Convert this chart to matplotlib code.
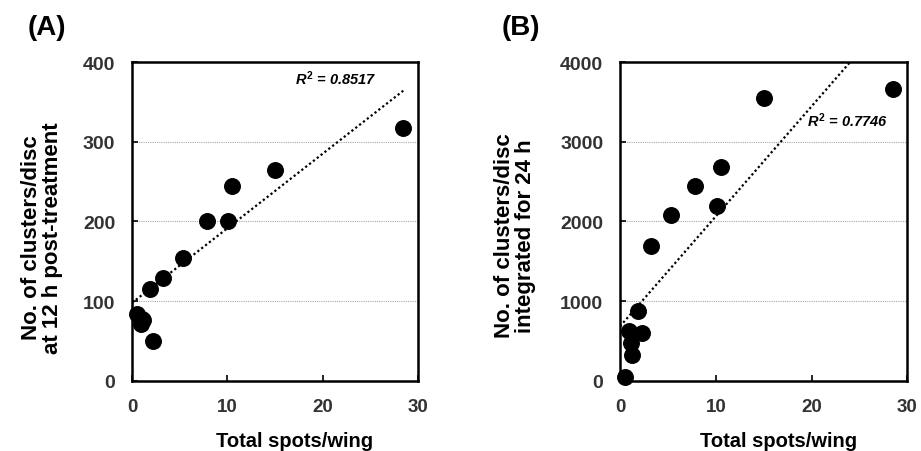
import matplotlib
matplotlib.use("Agg")
import matplotlib.pyplot as plt

plt.rcParams['font.family'] = ['Liberation Sans', 'DejaVu Sans']
plt.rcParams['mathtext.fontset'] = 'custom'
plt.rcParams['mathtext.it'] = 'Liberation Sans:italic:bold'
plt.rcParams['mathtext.rm'] = 'Liberation Sans:bold'

# total spots per wing (x) and clusters per disc (y)
spots = [0.55, 0.9, 1.1, 1.2, 1.85, 2.25, 3.25, 5.3, 7.85, 10.1, 10.5, 15.0, 28.45]
clusters_12h = [84, 72, 78, 76, 115, 50, 129, 154, 200, 201, 245, 264, 317]
clusters_24h = [46, 631, 473, 326, 881, 598, 1697, 2082, 2449, 2190, 2687, 3545, 3661]

# trend lines (slope, intercept) as printed
fit_a = (9.35, 98.0)
fit_b = (138.0, 685.0)
r2_a = "0.8517"
r2_b = "0.7746"

ylabel_a = "No. of clusters/disc\nat 12 h post-treatment"
ylabel_b = "No. of clusters/disc\nintegrated for 24 h"
xlabel = "Total spots/wing"
tick_col = "#333333"

fig = plt.figure(figsize=(9.21, 4.52), dpi=100)
ax_a = fig.add_axes([0.1433, 0.1549, 0.3106, 0.7057])
ax_b = fig.add_axes([0.6732, 0.1549, 0.3121, 0.7057])


def panel(ax, y, fit, r2, r2pos, ymax, ystep, xlab_x):
    ax.set_xlim(0, 30)
    ax.set_ylim(0, ymax)
    ax.set_xticks([0, 10, 20, 30])
    ax.set_yticks([ystep * i for i in range(5)])
    for v in [ystep, 2 * ystep, 3 * ystep]:
        ax.axhline(v, color="#a8a8a8", lw=0.8, ls=(0, (1, 1)), zorder=0)
    x_end = min(max(spots), (ymax - fit[1]) / fit[0])
    ax.plot([0, x_end], [fit[1], fit[1] + fit[0] * x_end], color="black",
            lw=1.6, ls=(0, (1, 1.2)), zorder=2)
    ax.scatter(spots, y, s=125, color="black", zorder=3, clip_on=False)
    ax.text(r2pos[0], r2pos[1], r"$R^2$ = " + r2, fontsize=10.5,
            fontweight="bold", fontstyle="italic")
    for sp in ax.spines.values():
        sp.set_linewidth(1.8)
    ax.tick_params(axis="y", direction="in", length=4, width=1.2, pad=12,
                   labelsize=14, labelcolor=tick_col)
    ax.tick_params(axis="x", direction="in", length=4, width=1.2, pad=12,
                   labelsize=13.5, labelcolor=tick_col)
    for lab in ax.get_xticklabels() + ax.get_yticklabels():
        lab.set_fontweight("bold")
    ax.text(xlab_x, -0.188, xlabel, transform=ax.transAxes, ha="center",
            va="center", fontsize=14.5, fontweight="bold")


panel(ax_a, clusters_12h, fit_a, r2_a, (17.1, 373), 400, 100, 0.57)
panel(ax_b, clusters_24h, fit_b, r2_b, (19.5, 3200), 4000, 1000, 0.55)

fig.text(42 / 921, 1 - 238 / 452, ylabel_a, rotation=90, ha="center",
         va="center", fontsize=16, fontweight="bold", linespacing=0.95)
fig.text(515 / 921, 1 - 236 / 452, ylabel_b, rotation=90, ha="center",
         va="center", fontsize=16, fontweight="bold", linespacing=0.95)
fig.text(28 / 921, 1 - 28 / 452, "(A)", ha="left", va="center",
         fontsize=20, fontweight="bold")
fig.text(502 / 921, 1 - 28 / 452, "(B)", ha="left", va="center",
         fontsize=20, fontweight="bold")

fig.savefig("out.png", dpi=100)
